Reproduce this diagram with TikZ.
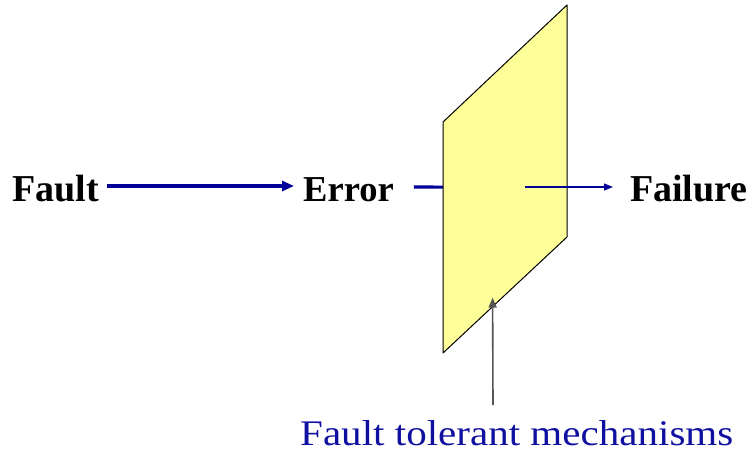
\documentclass[tikz,border=0pt]{standalone}
\usepackage{fontspec}
\setmainfont{Liberation Serif}
\usetikzlibrary{arrows.meta,calc}
\definecolor{arrowblue}{HTML}{000099}
\definecolor{textblue}{HTML}{1010A0}
\definecolor{planeyellow}{HTML}{FFFF99}
\definecolor{pointergray}{HTML}{555555}
\tikzset{
  term/.style={font=\fontsize{38}{40}\selectfont\bfseries, inner sep=0pt, anchor=base west},
  bluearrow/.style={draw=arrowblue, line width=3.2pt, -{Triangle[length=12pt,width=10pt]}},
  thinblue/.style={draw=arrowblue, line width=1.3pt, -{Triangle[length=9pt,width=7pt]}},
  plane/.style={draw=black, line width=1pt, fill=planeyellow, line join=round},
  pointer/.style={draw=pointergray, line width=1.6pt, -{Triangle[length=10pt,width=8pt]}},
  caption/.style={font=\fontsize{36}{40}\selectfont, text=textblue, inner sep=0pt, anchor=base west}
}
\begin{document}
\begin{tikzpicture}[x=1pt,y=-1pt]
\useasboundingbox (0,0) rectangle (752,453);
% terms
\node[term] (fault) at (12,201) {Fault};
\node[term, font=\fontsize{36.5}{40}\selectfont\bfseries] (error) at (303,201) {Error};
\node[term] (failure) at (630,201) {Failure};
\node[caption] (ftm) at (300,445) {\scalebox{1.14}[1]{Fault tolerant mechanisms}};
% plane corners
\coordinate (tl) at (443,122);
\coordinate (tr) at (567,5);
\coordinate (br) at (567,237);
\coordinate (bl) at (443,353);
% stub entering the plane
\draw[arrowblue, line width=3.2pt] ($(error.base east)+(20,-14)$) -- ($(tl)!0.282!(bl)$);
% plane
\path[plane] (tl) -- (tr) -- (br) -- (bl) -- cycle;
% fault -> error
\draw[bluearrow] ($(fault.base east)+(8,-15)$) -- ($(error.base west)+(-9,-15)$);
% exit arrow to failure
\coordinate (exit) at (525,187);
\draw[thinblue] (exit) -- ($(failure.base west)+(-17,-14)$);
% pointer
\coordinate (hit) at ($(bl)!0.40!(br)+(0,-9)$);
\draw[pointer] ($(ftm.base west)+(193,-40)$) -- (hit);
\end{tikzpicture}
\end{document}
